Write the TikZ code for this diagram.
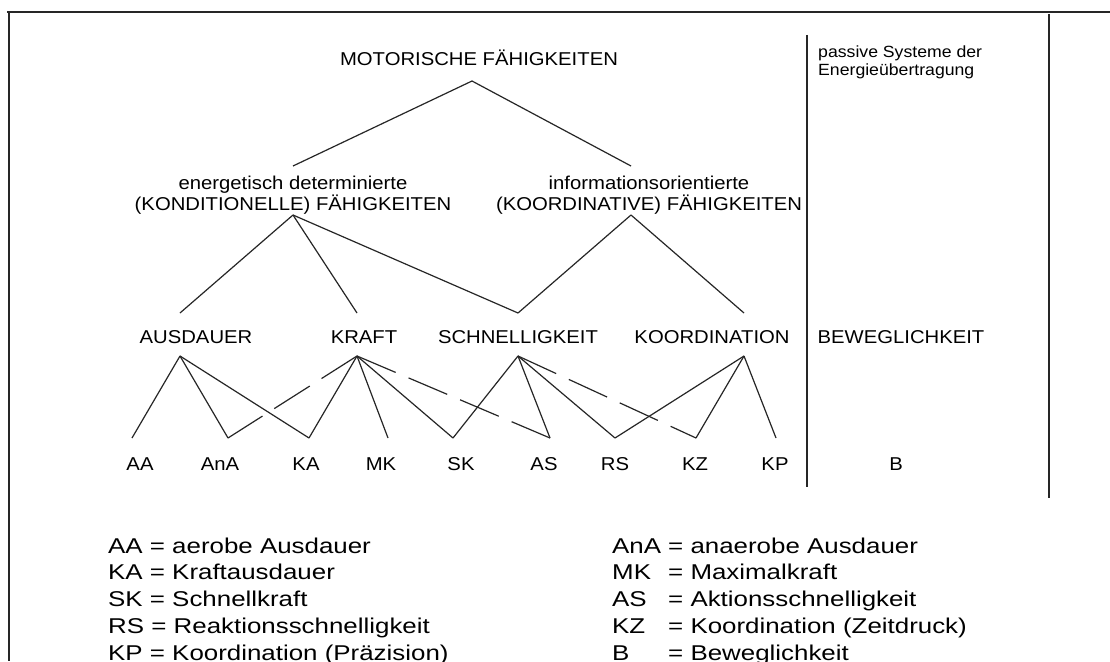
\documentclass[tikz,border=0pt]{standalone}
\usepackage{fontspec}
\setmainfont{Liberation Sans}[FakeStretch=1.09]
\newfontfamily\legendfont{Liberation Sans}[FakeStretch=1.21]
\begin{document}
\begin{tikzpicture}[x=1pt,y=-1pt,
  lbl/.style={font=\fontsize{18.6}{21}\selectfont, inner sep=0pt, anchor=base},
  small/.style={font=\fontsize{16.2}{17}\selectfont, inner sep=0pt, anchor=base west},
  leg/.style={font=\legendfont\fontsize{21.4}{26.7}\selectfont, inner sep=0pt, anchor=base west},
  edge/.style={draw=black!85, line width=1.2pt},
  dashedge/.style={edge, dash pattern=on 42pt off 14pt},
  frame/.style={draw=black!85, line width=2pt}]
\useasboundingbox[fill=white] (0,0) rectangle (1110,661);

% frame and column separators
\draw[frame] (7,12) -- (1110,12);
\draw[frame] (9,12) -- (9,661);
\draw[frame] (1049,14) -- (1049,498);
\draw[frame] (807,35) -- (807,487);

% top level
\node[lbl] (mot) at (479,66) {MOTORISCHE FÄHIGKEITEN};
\node[small] (pas1) at (818,58) {passive Systeme der};
\node[small] (pas2) at (818,75) {Energieübertragung};

% second level
\node[lbl] (kond1) at (293,189) {energetisch determinierte};
\node[lbl] (kond2) at (293,210) {(KONDITIONELLE) FÄHIGKEITEN};
\node[lbl] (koor1) at (649,189) {informationsorientierte};
\node[lbl] (koor2) at (649,210) {(KOORDINATIVE) FÄHIGKEITEN};

% third level
\node[lbl] (aus) at (196,343) {AUSDAUER};
\node[lbl] (kra) at (364,343) {KRAFT};
\node[lbl] (sch) at (518,343) {SCHNELLIGKEIT};
\node[lbl] (koo) at (712,343) {KOORDINATION};
\node[lbl] (bew) at (901,343) {BEWEGLICHKEIT};

% bottom level
\node[lbl] (AA)  at (140,470) {AA};
\node[lbl] (AnA) at (220,470) {AnA};
\node[lbl] (KA)  at (306,470) {KA};
\node[lbl] (MK)  at (381,470) {MK};
\node[lbl] (SK)  at (461,470) {SK};
\node[lbl] (AS)  at (544,470) {AS};
\node[lbl] (RS)  at (615,470) {RS};
\node[lbl] (KZ)  at (695,470) {KZ};
\node[lbl] (KP)  at (775,470) {KP};
\node[lbl] (B)   at (896,470) {B};

% connector end points
\coordinate (mot-b)  at (472,81);
\coordinate (kond-t) at (293,166);
\coordinate (koor-t) at (631,166);
\coordinate (kond-b) at (293,215);
\coordinate (koor-b) at (631,215);
\coordinate (aus-t) at (180,313);
\coordinate (kra-t) at (357,313);
\coordinate (sch-t) at (518,313);
\coordinate (koo-t) at (744,313);
\coordinate (aus-b) at (180,356);
\coordinate (kra-b) at (357,356);
\coordinate (sch-b) at (518,356);
\coordinate (koo-b) at (744,356);
\coordinate (AA-t)  at (132,438);
\coordinate (AnA-t) at (228,438);
\coordinate (KA-t)  at (309,438);
\coordinate (MK-t)  at (388,438);
\coordinate (SK-t)  at (453,438);
\coordinate (AS-t)  at (550,438);
\coordinate (RS-t)  at (615,438);
\coordinate (KZ-t)  at (696,438);
\coordinate (KP-t)  at (776,438);

% tree connectors
\draw[edge] (kond-t) -- (mot-b) -- (koor-t);
\draw[edge] (kond-b) -- (aus-t);
\draw[edge] (kond-b) -- (kra-t);
\draw[edge] (kond-b) -- (sch-t);
\draw[edge] (koor-b) -- (sch-t);
\draw[edge] (koor-b) -- (koo-t);

\draw[edge] (aus-b) -- (AA-t);
\draw[edge] (aus-b) -- (AnA-t);
\draw[edge] (aus-b) -- (KA-t);
\draw[dashedge] (kra-b) -- (AnA-t);
\draw[edge] (kra-b) -- (KA-t);
\draw[edge] (kra-b) -- (MK-t);
\draw[edge] (kra-b) -- (SK-t);
\draw[dashedge] (kra-b) -- (AS-t);
\draw[edge] (sch-b) -- (SK-t);
\draw[edge] (sch-b) -- (AS-t);
\draw[edge] (sch-b) -- (RS-t);
\draw[dashedge] (sch-b) -- (KZ-t);
\draw[edge] (koo-b) -- (RS-t);
\draw[edge] (koo-b) -- (KZ-t);
\draw[edge] (koo-b) -- (KP-t);

% legend
\node[leg] (l1) at (108,553) {AA = aerobe Ausdauer};
\node[leg] (l2) at (108,579) {KA = Kraftausdauer};
\node[leg] (l3) at (108,606) {SK = Schnellkraft};
\node[leg] (l4) at (108,633) {RS = Reaktionsschnelligkeit};
\node[leg] (l5) at (108,660) {KP = Koordination (Präzision)};
\node[leg] (r1) at (612,553) {\makebox[56pt][l]{AnA}= anaerobe Ausdauer};
\node[leg] (r2) at (612,579) {\makebox[56pt][l]{MK}= Maximalkraft};
\node[leg] (r3) at (612,606) {\makebox[56pt][l]{AS}= Aktionsschnelligkeit};
\node[leg] (r4) at (612,633) {\makebox[56pt][l]{KZ}= Koordination (Zeitdruck)};
\node[leg] (r5) at (612,660) {\makebox[56pt][l]{B}= Beweglichkeit};
\end{tikzpicture}
\end{document}
